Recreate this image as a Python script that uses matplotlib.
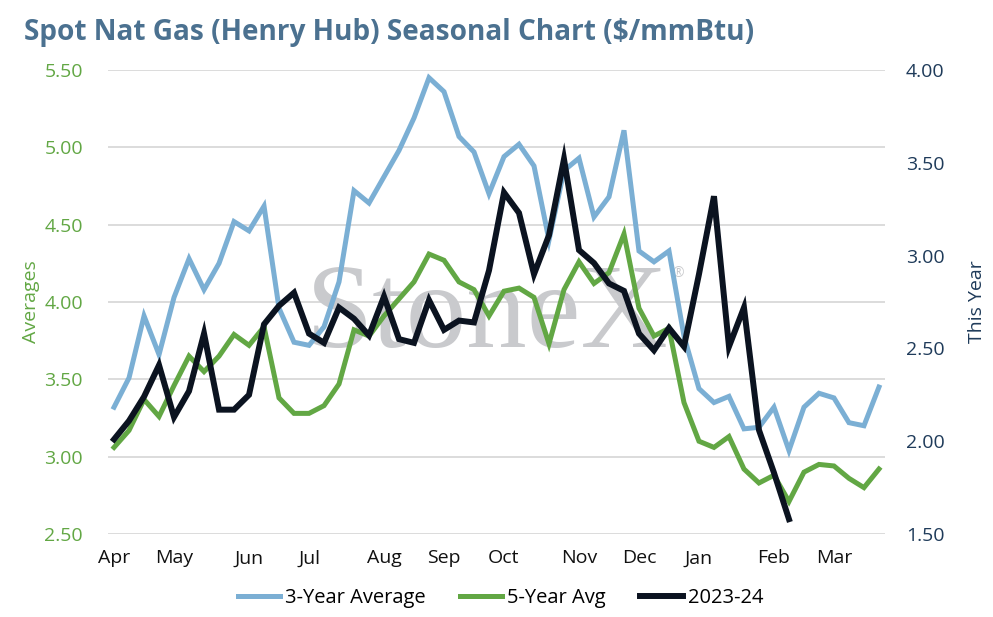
import matplotlib
matplotlib.use("Agg")
import matplotlib.pyplot as plt
import numpy as np

plt.rcParams['font.family'] = ['Open Sans', 'DejaVu Sans']

# weekly values, Apr -> Mar
avg_3yr = [3.32, 3.51, 3.91, 3.66, 4.03, 4.28, 4.08, 4.25, 4.52, 4.46,
           4.62, 3.96, 3.74, 3.72, 3.84, 4.13, 4.72, 4.64, 4.81, 4.98,
           5.19, 5.45, 5.36, 5.07, 4.97, 4.70, 4.94, 5.02, 4.88, 4.40,
           4.85, 4.93, 4.55, 4.68, 5.11, 4.33, 4.26, 4.33, 3.78, 3.44,
           3.35, 3.39, 3.18, 3.19, 3.32, 3.04, 3.32, 3.41, 3.38, 3.22,
           3.20, 3.45]
avg_5yr = [3.06, 3.17, 3.37, 3.26, 3.46, 3.65, 3.55, 3.65, 3.79, 3.72,
           3.84, 3.38, 3.28, 3.28, 3.33, 3.47, 3.82, 3.78, 3.91, 4.02,
           4.13, 4.31, 4.27, 4.13, 4.08, 3.91, 4.07, 4.09, 4.03, 3.73,
           4.08, 4.26, 4.12, 4.19, 4.44, 3.96, 3.78, 3.83, 3.35, 3.10,
           3.06, 3.13, 2.92, 2.83, 2.88, 2.71, 2.90, 2.95, 2.94, 2.86,
           2.80, 2.92]
this_year = [2.01, 2.11, 2.24, 2.41, 2.13, 2.27, 2.58, 2.17, 2.17, 2.25,
             2.63, 2.73, 2.80, 2.58, 2.53, 2.72, 2.66, 2.57, 2.78, 2.55,
             2.53, 2.76, 2.60, 2.65, 2.64, 2.92, 3.34, 3.23, 2.90, 3.11,
             3.52, 3.03, 2.96, 2.85, 2.81, 2.58, 2.49, 2.61, 2.51, 2.90,
             3.32, 2.51, 2.72, 2.06, 1.83, 1.58]

months = ['Apr', 'May', 'Jun', 'Jul', 'Aug', 'Sep', 'Oct', 'Nov', 'Dec',
          'Jan', 'Feb', 'Mar']
month_weeks = [0, 4, 9, 13, 18, 22, 26, 31, 35, 39, 44, 48]

blue = '#7bafd4'
green = '#62a744'
navy = '#0b1320'
title_col = '#4b7190'
right_col = '#1f3b5a'

fig = plt.figure(figsize=(9.93, 6.17), dpi=100)
ax = fig.add_axes([0.1088, 0.1345, 0.7824, 0.752])
ax2 = ax.twinx()

x = np.arange(len(avg_3yr))
x_ty = np.arange(len(this_year))

l1, = ax.plot(x, avg_3yr, color=blue, lw=3.6, solid_joinstyle='miter',
              label='3-Year Average', zorder=3)
l2, = ax.plot(x, avg_5yr, color=green, lw=3.6, solid_joinstyle='miter',
              label='5-Year Avg', zorder=3)
l3, = ax2.plot(x_ty, this_year, color=navy, lw=4.3, solid_joinstyle='miter',
               label='2023-24', zorder=4)

ax.set_xlim(-0.4, 51.4)
ax.set_ylim(2.5, 5.5)
ax2.set_ylim(1.5, 4.0)
ax.set_yticks(np.arange(2.5, 5.51, 0.5))
ax2.set_yticks(np.arange(1.5, 4.01, 0.5))
ax.yaxis.set_major_formatter(matplotlib.ticker.FormatStrFormatter('%.2f'))
ax2.yaxis.set_major_formatter(matplotlib.ticker.FormatStrFormatter('%.2f'))
ax.set_xticks(month_weeks)
ax.set_xticklabels(months)

ax.grid(axis='y', color='#d9d9d9', lw=1.3)
ax.set_axisbelow(True)
for a in (ax, ax2):
    for s in a.spines.values():
        s.set_visible(False)
ax.tick_params(axis='x', length=0, pad=11, labelsize=14, labelcolor='#111111')
ax.tick_params(axis='y', length=0, pad=18, labelsize=14, labelcolor=green)
ax2.tick_params(axis='y', length=0, pad=15, labelsize=14, labelcolor=right_col)

ax.set_ylabel('Averages', color=green, fontsize=14, labelpad=3)
ax2.set_ylabel('This Year', color=right_col, fontsize=14, labelpad=17)

# watermark
ax.text(0.488, 0.403, 'StoneX', transform=ax.transAxes, ha='center', va='baseline',
        family='Liberation Serif', fontsize=87, color='#c9cacd', zorder=1)
ax.text(0.734, 0.5625, '\u00ae', transform=ax.transAxes, ha='center', va='center',
        fontsize=10, color='#c9cacd', zorder=1)

fig.text(0.024, 0.947, r'Spot Nat Gas (Henry Hub) Seasonal Chart (\$/mmBtu)',
         fontsize=20.2, fontweight='bold', color=title_col, ha='left', va='center')

fig.legend(handles=[l1, l2, l3], loc='center', bbox_to_anchor=(0.504, 0.03),
           ncol=3, frameon=False, fontsize=14.5, handlelength=2.1,
           handletextpad=0.25, columnspacing=1.7)

fig.savefig('out.png', dpi=100)
